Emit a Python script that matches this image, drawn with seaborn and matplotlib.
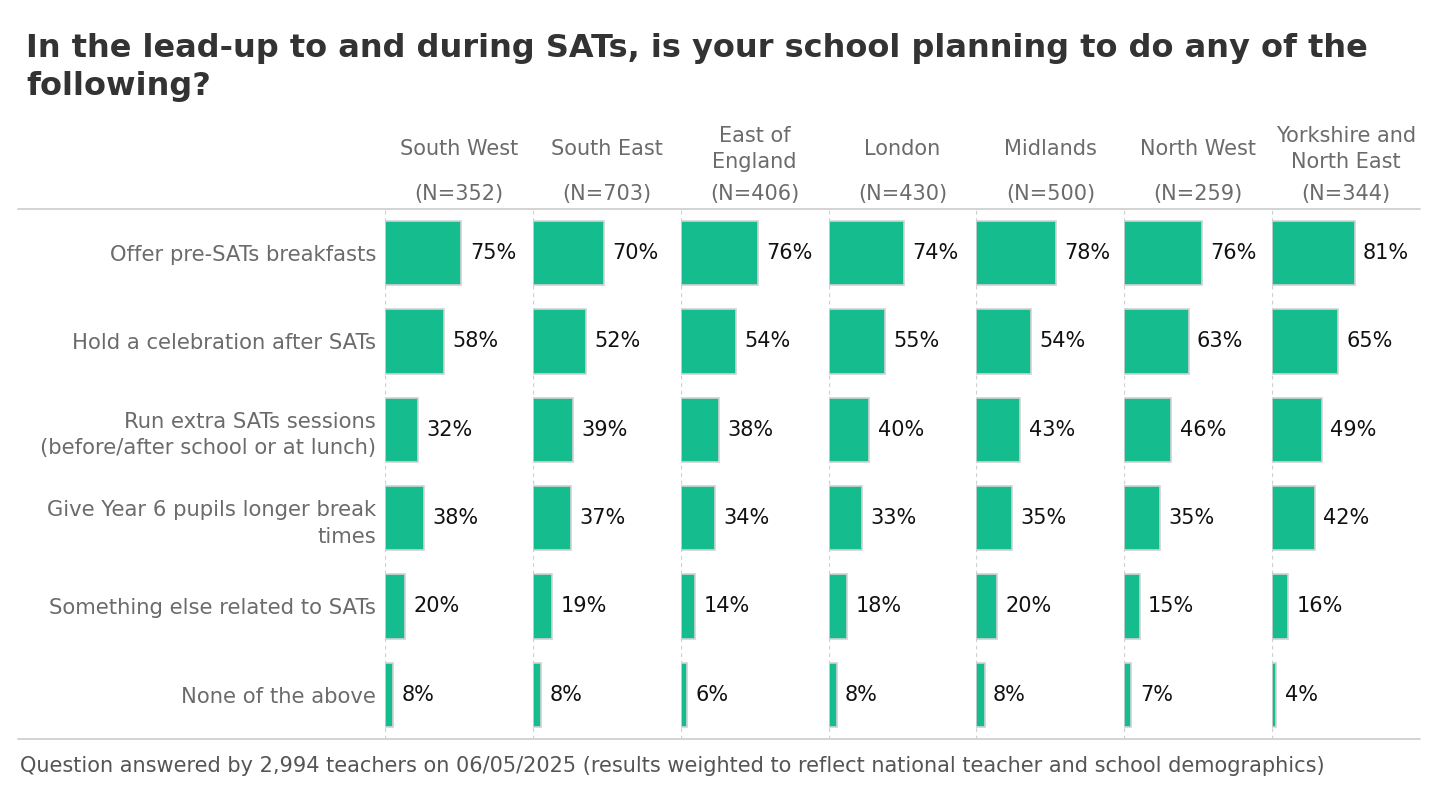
import matplotlib
matplotlib.use("Agg")
import matplotlib.pyplot as plt
from matplotlib.lines import Line2D
import seaborn as sns
import pandas as pd

regions = ["South West", "South East", "East of\nEngland", "London", "Midlands",
           "North West", "Yorkshire and\nNorth East"]
sample_sizes = [352, 703, 406, 430, 500, 259, 344]
items = ["Offer pre-SATs breakfasts",
         "Hold a celebration after SATs",
         "Run extra SATs sessions\n(before/after school or at lunch)",
         "Give Year 6 pupils longer break\ntimes",
         "Something else related to SATs",
         "None of the above"]
south_west = [75, 58, 32, 38, 20, 8]
south_east = [70, 52, 39, 37, 19, 8]
east_of_england = [76, 54, 38, 34, 14, 6]
london = [74, 55, 40, 33, 18, 8]
midlands = [78, 54, 43, 35, 20, 8]
north_west = [76, 63, 46, 35, 15, 7]
yorkshire_ne = [81, 65, 49, 42, 16, 4]
series = [south_west, south_east, east_of_england, london, midlands, north_west, yorkshire_ne]

title = "In the lead-up to and during SATs, is your school planning to do any of the\nfollowing?"
footer = ("Question answered by 2,994 teachers on 06/05/2025 (results weighted to reflect "
          "national teacher and school demographics)")

sns.set_theme(style="white")
plt.rcParams["font.family"] = ["DejaVu Sans"]

W, H = 1440, 800
fig = plt.figure(figsize=(W / 100, H / 100), dpi=100)

BAR = "#14BC8E"
EDGE = "#d2d2d2"
GRAY = "#6b6b6b"
LINE = "#d0d0d0"
FS = 15
LS = 1.4

top_px, bot_px = 209, 739
left_px, right_px = 385, 1420
n_pan = len(regions)
pw = (right_px - left_px) / n_pan

for i, (reg, n, vals) in enumerate(zip(regions, sample_sizes, series)):
    x0 = (left_px + i * pw) / W
    ax = fig.add_axes([x0, 1 - bot_px / H, pw / W, (bot_px - top_px) / H])
    df = pd.DataFrame({"item": items, "value": [v / 100 for v in vals]})
    sns.barplot(data=df, y="item", x="value", orient="h", ax=ax, color=BAR,
                width=0.725, edgecolor=EDGE, linewidth=1.2, saturation=1)
    ax.set_xlim(0, 1.45)
    ax.set_ylim(len(items) - 0.5, -0.5)
    ax.set_xlabel("")
    ax.set_ylabel("")
    ax.set_xticks([])
    for s in ax.spines.values():
        s.set_visible(False)
    ax.axvline(0, color=LINE, lw=0.9, ls=(0, (3, 3)), zorder=0)
    if i == 0:
        ax.tick_params(axis="y", length=0, pad=6.5, labelsize=15.2, labelcolor=GRAY)
        for t in ax.get_yticklabels():
            t.set_linespacing(LS)
    else:
        ax.set_yticklabels([])
        ax.tick_params(axis="y", length=0)
    ax.bar_label(ax.containers[0], labels=[f"{v}%" for v in vals], padding=6,
                 fontsize=FS, color="#111111")
    cx = x0 + pw / W / 2
    fig.text(cx, 1 - 149 / H, reg, ha="center", va="center", fontsize=FS, color=GRAY,
             linespacing=LS)
    fig.text(cx, 1 - 194 / H, f"(N={n})", ha="center", va="center", fontsize=FS, color=GRAY)

for y in (top_px, bot_px):
    fig.add_artist(Line2D([18 / W, 1420 / W], [1 - y / H, 1 - y / H],
                          transform=fig.transFigure, color=LINE, lw=1.3))

fig.text(26 / W, 1 - 67.5 / H, title, ha="left", va="center", fontsize=23,
         fontweight="bold", color="#333333", linespacing=1.33)
fig.text(20 / W, 1 - 766 / H, footer, ha="left", va="center", fontsize=15, color="#555555")

fig.savefig("out.png", dpi=100)
